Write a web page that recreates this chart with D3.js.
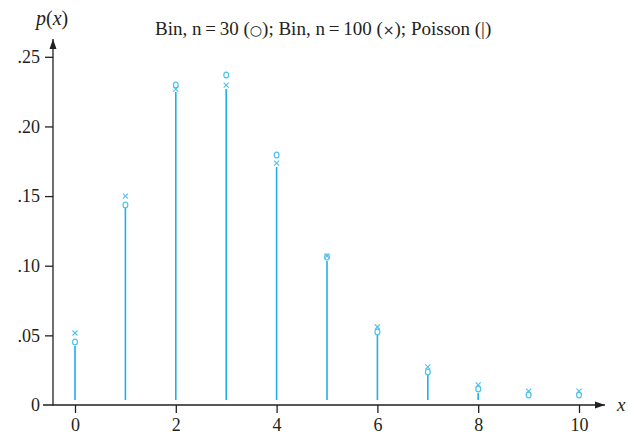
<!DOCTYPE html>
<html><head><meta charset="utf-8">
<script src="https://cdn.jsdelivr.net/npm/d3@7"></script>
<style>body{margin:0;background:#fff}svg{display:block}</style>
</head><body>
<svg id="c" width="629" height="439"></svg>
<script>
const xs = [0,1,2,3,4,5,6,7,8,9,10];
const poisson = [0.0424,0.1414,0.2247,0.2268,0.1709,0.1034,0.0503,0.0215,0.0086,0.0027,0.0008];
const bin30  = [0.0452,0.1436,0.2297,0.2369,0.1795,0.1062,0.0524,0.0237,0.0115,0.0072,0.0072];
const bin100 = [0.0517,0.1500,0.2268,0.2297,0.1737,0.1070,0.0560,0.0273,0.0144,0.0100,0.0100];
const yTicks = [0,0.05,0.10,0.15,0.20,0.25];
const yTickLabels = ["0",".05",".10",".15",".20",".25"];
const xTicks = [0,2,4,6,8,10];
const titleText = ["Bin, n\u2009=\u200930 (", "○", "); Bin, n\u2009=\u2009100 (", "×", "); Poisson (|)"];

const svg = d3.select("#c");
const ink = "#231f20", blue = "#1fb0e6", mk = "#4cc2ee";
const serif = "'Liberation Serif','Times New Roman',serif";
const x = d3.scaleLinear().domain([0,10]).range([75,579]);
const y = d3.scaleLinear().domain([0,0.25]).range([405,56.8]);

const defs = svg.append("defs");
defs.append("marker").attr("id","arr").attr("viewBox","0 0 10 10").attr("refX",10).attr("refY",5)
  .attr("markerWidth",10).attr("markerHeight",10).attr("markerUnits","userSpaceOnUse").attr("orient","auto")
  .append("path").attr("d","M0,1.5 L10,5 L0,8.5 Z").attr("fill",ink);

// y axis
const yAxis = d3.axisLeft(y).tickValues(yTicks).tickFormat((d,i)=>yTickLabels[i]).tickSize(8).tickPadding(5);
const gy = svg.append("g").attr("transform","translate(53,0)").call(yAxis);
gy.select(".domain").remove();
gy.selectAll(".tick line").attr("stroke",ink).attr("stroke-width",1.3);
gy.selectAll(".tick text").attr("fill",ink).attr("font-family",serif).attr("font-size",18);
gy.selectAll(".tick").filter(d=>d===0).select("line").remove();
svg.append("line").attr("x1",53).attr("x2",53).attr("y1",405.5).attr("y2",39)
  .attr("stroke",ink).attr("stroke-width",1.3).attr("marker-end","url(#arr)");

// x axis
const xAxis = d3.axisBottom(x).tickValues(xTicks).tickSize(8).tickPadding(5).tickFormat(d3.format("d"));
const gx = svg.append("g").attr("transform","translate(0,405)").call(xAxis);
gx.select(".domain").remove();
gx.selectAll(".tick line").attr("stroke",ink).attr("stroke-width",1.3);
gx.selectAll(".tick text").attr("fill",ink).attr("font-family",serif).attr("font-size",18);
svg.append("line").attr("x1",43).attr("x2",605).attr("y1",405).attr("y2",405)
  .attr("stroke",ink).attr("stroke-width",1.3).attr("marker-end","url(#arr)");

// axis labels
svg.append("text").attr("x",36).attr("y",25).attr("font-family",serif).attr("font-size",20).attr("fill",ink)
  .html("<tspan font-style='italic'>p</tspan>(<tspan font-style='italic'>x</tspan>)");
svg.append("text").attr("x",617).attr("y",411).attr("font-family",serif).attr("font-size",19)
  .attr("font-style","italic").attr("fill",ink).text("x");

// title
const t = svg.append("text").attr("x",155).attr("y",35).attr("font-family",serif).attr("font-size",19).attr("fill",ink);
titleText.forEach((s,i)=>{
  const sp = t.append("tspan").text(s);
  if (i===1 || i===3) sp.attr("font-family","'DejaVu Sans',sans-serif").attr("font-size",14);
});

// stems (Poisson)
const base = y(0) - 5;
svg.append("g").selectAll("line").data(xs.map((d,i)=>({x:d,v:poisson[i]})).filter(d=>y(d.v)<base))
  .join("line").attr("x1",d=>x(d.x)).attr("x2",d=>x(d.x)).attr("y1",base).attr("y2",d=>y(d.v))
  .attr("stroke",blue).attr("stroke-width",1.6);

// circles Bin 30
svg.append("g").selectAll("ellipse").data(xs.map((d,i)=>({x:d,v:bin30[i]})))
  .join("ellipse").attr("cx",d=>x(d.x)).attr("cy",d=>y(d.v)).attr("rx",2.4).attr("ry",2.9)
  .attr("fill","#fff").attr("stroke",mk).attr("stroke-width",1.2);

// crosses Bin 100
svg.append("g").selectAll("path").data(xs.map((d,i)=>({x:d,v:bin100[i]})))
  .join("path").attr("d",d=>{const cx=x(d.x), cy=y(d.v), r=2.5;
    return `M${cx-r},${cy-r}L${cx+r},${cy+r}M${cx+r},${cy-r}L${cx-r},${cy+r}`;})
  .attr("stroke",mk).attr("stroke-width",1.1).attr("fill","none");
</script>
</body></html>
